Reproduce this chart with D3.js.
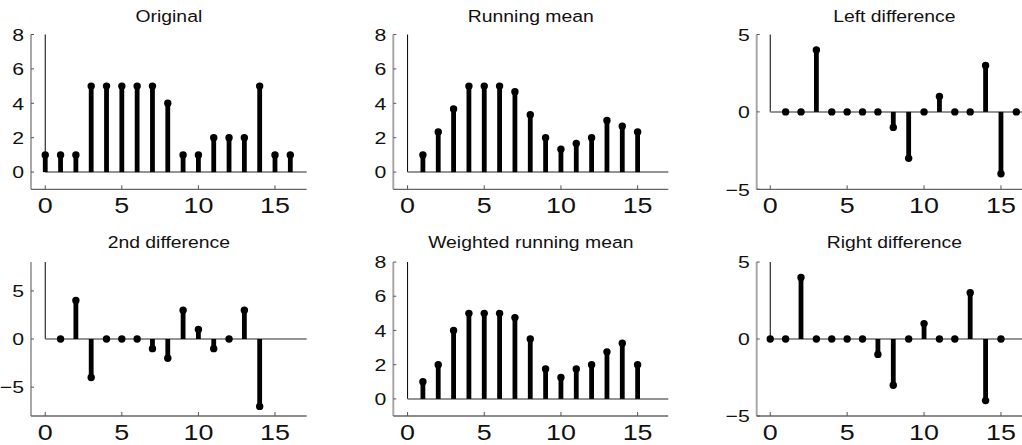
<!DOCTYPE html>
<html>
<head>
<meta charset="utf-8">
<script src="https://cdn.jsdelivr.net/npm/d3@7/dist/d3.min.js"></script>
<style>
  html, body { margin: 0; padding: 0; background: #fff; }
  svg { display: block; }
  text { font-family: "Liberation Sans", Arial, sans-serif; fill: #111; }
</style>
</head>
<body>
<svg id="chart" width="1022" height="445"></svg>
<script>
// ---- data ----
const xTicks = [0, 5, 10, 15];

const originalX = [0, 1, 2, 3, 4, 5, 6, 7, 8, 9, 10, 11, 12, 13, 14, 15, 16];
const originalY = [1, 1, 1, 5, 5, 5, 5, 5, 4, 1, 1, 2, 2, 2, 5, 1, 1];

const runningMeanX = [1, 2, 3, 4, 5, 6, 7, 8, 9, 10, 11, 12, 13, 14, 15];
const runningMeanY = [1, 2.33, 3.67, 5, 5, 5, 4.67, 3.33, 2, 1.33, 1.67, 2, 3, 2.67, 2.33];

const leftDiffX = [1, 2, 3, 4, 5, 6, 7, 8, 9, 10, 11, 12, 13, 14, 15, 16];
const leftDiffY = [0, 0, 4, 0, 0, 0, 0, -1, -3, 0, 1, 0, 0, 3, -4, 0];

const secondDiffX = [1, 2, 3, 4, 5, 6, 7, 8, 9, 10, 11, 12, 13, 14];
const secondDiffY = [0, 4, -4, 0, 0, 0, -1, -2, 3, 1, -1, 0, 3, -7];

const weightedMeanX = [1, 2, 3, 4, 5, 6, 7, 8, 9, 10, 11, 12, 13, 14, 15];
const weightedMeanY = [1, 2, 4, 5, 5, 5, 4.75, 3.5, 1.75, 1.25, 1.75, 2, 2.75, 3.25, 2];

const rightDiffX = [0, 1, 2, 3, 4, 5, 6, 7, 8, 9, 10, 11, 12, 13, 14, 15];
const rightDiffY = [0, 0, 4, 0, 0, 0, 0, -1, -3, 0, 1, 0, 0, 3, -4, 0];

const titles = ["Original", "Running mean", "Left difference",
                "2nd difference", "Weighted running mean", "Right difference"];
const yTicksPos = [0, 2, 4, 6, 8];
const yTicksSym = [-5, 0, 5];

// ---- layout ----
const cols = [
  { left: 31, right: 306.7, xDom: [-0.93, 17.07] },
  { left: 393.3, right: 668.3, xDom: [-0.93, 17.0] },
  { left: 756.7, right: 1032.8, xDom: [-0.88, 17.07] }
];
const rows = [
  { top: 34.5, bottom: 189.3, titleY: 21.8 },
  { top: 262, bottom: 416, titleY: 248 }
];

const panels = [
  { row: 0, col: 0, title: titles[0], xs: originalX, ys: originalY, yDom: [-1, 8], yTicks: yTicksPos },
  { row: 0, col: 1, title: titles[1], xs: runningMeanX, ys: runningMeanY, yDom: [-1, 8], yTicks: yTicksPos },
  { row: 0, col: 2, title: titles[2], xs: leftDiffX, ys: leftDiffY, yDom: [-5, 5], yTicks: yTicksSym },
  { row: 1, col: 0, title: titles[3], xs: secondDiffX, ys: secondDiffY, yDom: [-8, 8], yTicks: yTicksSym },
  { row: 1, col: 1, title: titles[4], xs: weightedMeanX, ys: weightedMeanY, yDom: [-1, 8], yTicks: yTicksPos },
  { row: 1, col: 2, title: titles[5], xs: rightDiffX, ys: rightDiffY, yDom: [-5, 5], yTicks: yTicksSym }
];

const svg = d3.select("#chart");
const SX = 1.25;

panels.forEach(p => {
  const c = cols[p.col], r = rows[p.row];
  const x = d3.scaleLinear().domain(c.xDom).range([c.left, c.right]);
  const y = d3.scaleLinear().domain(p.yDom).range([r.bottom, r.top]);
  const g = svg.append("g");
  const xMax = c.xDom[1];

  // left axis
  g.append("line").attr("x1", c.left).attr("x2", c.left)
    .attr("y1", r.top).attr("y2", r.bottom)
    .attr("stroke", "#a8a8a8").attr("stroke-width", 2);
  // bottom axis
  g.append("line").attr("x1", c.left).attr("x2", c.right)
    .attr("y1", r.bottom).attr("y2", r.bottom)
    .attr("stroke", "#666").attr("stroke-width", 1.3);

  // x ticks (inward)
  xTicks.forEach(t => {
    g.append("line").attr("x1", x(t)).attr("x2", x(t))
      .attr("y1", r.bottom).attr("y2", r.bottom - 4)
      .attr("stroke", "#555").attr("stroke-width", 1);
    g.append("text")
      .attr("transform", `translate(${x(t)},${r.bottom + 24}) scale(${SX},1)`)
      .attr("text-anchor", "middle")
      .style("font-size", "21.5px")
      .text(t);
  });
  // y ticks
  p.yTicks.forEach(t => {
    g.append("line").attr("x1", c.left).attr("x2", c.left + 3)
      .attr("y1", y(t)).attr("y2", y(t))
      .attr("stroke", "#555").attr("stroke-width", 1);
    g.append("text")
      .attr("transform", `translate(${c.left - 7},${y(t) + 6.2}) scale(${SX},1)`)
      .attr("text-anchor", "end")
      .style("font-size", "17px")
      .text(t < 0 ? "\u2212" + Math.abs(t) : t);
  });

  // thin vertical line at x=0
  g.append("line").attr("x1", x(0)).attr("x2", x(0))
    .attr("y1", y(p.yDom[1])).attr("y2", y(0))
    .attr("stroke", "#000").attr("stroke-width", 1);
  // zero line
  g.append("line").attr("x1", x(0)).attr("x2", x(xMax))
    .attr("y1", y(0)).attr("y2", y(0))
    .attr("stroke", "#707070").attr("stroke-width", 1.5);

  // stems
  const pts = p.xs.map((v, i) => ({ x: v, y: p.ys[i] }));
  g.selectAll(".stem").data(pts).enter().append("line")
    .attr("x1", d => x(d.x)).attr("x2", d => x(d.x))
    .attr("y1", y(0)).attr("y2", d => y(d.y))
    .attr("stroke", "#000").attr("stroke-width", 4.8);
  g.selectAll(".dot").data(pts).enter().append("circle")
    .attr("cx", d => x(d.x)).attr("cy", d => y(d.y))
    .attr("r", 3.7).attr("fill", "#000");

  // title
  g.append("text")
    .attr("transform", `translate(${(c.left + Math.min(c.right, 1032)) / 2},${r.titleY}) scale(1.14,1)`)
    .attr("text-anchor", "middle")
    .style("font-size", "17px")
    .text(p.title);
});
</script>
</body>
</html>
